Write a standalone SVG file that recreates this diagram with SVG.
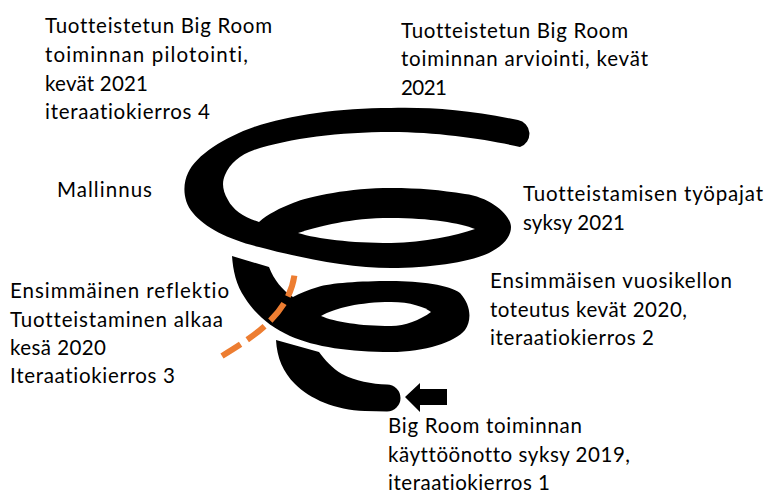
<svg xmlns="http://www.w3.org/2000/svg" width="766" height="493" viewBox="0 0 766 493">
  <style>
    .lbl { font-family: Lato, "Open Sans", "Liberation Sans", sans-serif; font-size: 20.5px; fill: #000;
           font-variant-ligatures: none; font-feature-settings: "liga" 0, "clig" 0; }
    .coil { fill: #000; stroke: none; }
    .hole { fill: #fff; stroke: none; }
    .cut { fill: none; stroke: #ED7D31; stroke-width: 6; stroke-dasharray: 22 8; }
  </style>
  <rect width="766" height="493" fill="#fff"/>

  <!-- spiral coil, drawn as three filled pieces from top to bottom -->
  <g id="spiral">
    <g id="coil-top">
      <path class="coil" d="M 518,120 C 470,110 430,107 391,108 C 340,108 290,115 254,127 C 225,137 196,155 188,173 C 183,183 182,200 193,213 C 205,228 230,240 259,247 C 300,258 350,268 391,268 C 430,268 470,262 489,253 C 503,246 511,237 511,227 C 511,215 490,197 465,194 C 440,190 420,188 391,188 C 350,188 310,196 293,203 C 280,208 268,214 259,222 C 245,218 233,210 228,200 C 222,190 222,182 225,175 C 230,163 240,155 254,150 C 290,138 340,132 391,132 C 440,132 490,140 520,147 A 14 14 0 0 0 518,120 Z"/>
      <path class="hole" d="M 298,233 C 320,226 350,218 391,218 C 430,218 460,223 475,229 C 455,236 425,242 391,243 C 350,243 318,239 298,233 Z"/>
    </g>
    <g id="coil-middle">
      <path class="coil" d="M 232,256 C 233,270 236,285 245,298 C 255,314 270,327 290,336 C 315,347 350,352 391,352 C 425,352 455,342 465,330 C 472,320 471,305 460,293 C 450,285 420,281 391,281 C 360,281 330,283 318,287 C 308,290 300,293 293,297 C 282,290 274,280 269,267 Z"/>
      <path class="hole" d="M 321,316 C 335,308 360,302 391,302 C 410,302 425,307 431,312 C 420,320 405,326 391,326 C 360,326 335,322 321,316 Z"/>
    </g>
    <g id="coil-bottom">
      <path class="coil" d="M 276,340 C 277,358 283,372 295,384 C 310,399 335,410 365,411 L 387,411.5 A 13.5 13.5 0 0 0 387,384.5 C 372,384 355,381 342,374 C 332,368 325,360 319,352 Z"/>
    </g>
  </g>

  <!-- dashed reflection line across the coil -->
  <g id="reflection-line">
    <path class="cut" d="M 222,356 C 255,336 292,312 295,270"/>
  </g>

  <!-- start arrow -->
  <g id="start-arrow">
    <path fill="#000" d="M 405,397 L 420,383 L 420,389 L 447,389 L 447,405 L 420,405 L 420,412 Z"/>
  </g>

  <g id="label-pilot">
    <text class="lbl" x="45" y="33" textLength="227">Tuotteistetun Big Room</text>
    <text class="lbl" x="45" y="62" textLength="203">toiminnan pilotointi,</text>
    <text class="lbl" x="45" y="91" textLength="103">kevät 2021</text>
    <text class="lbl" x="45" y="119" textLength="165">iteraatiokierros 4</text>
  </g>
  <g id="label-evaluation">
    <text class="lbl" x="401" y="38" textLength="227">Tuotteistetun Big Room</text>
    <text class="lbl" x="401" y="66" textLength="247">toiminnan arviointi, kevät</text>
    <text class="lbl" x="401" y="95" textLength="46">2021</text>
  </g>
  <g id="label-modelling">
    <text class="lbl" x="57" y="197" textLength="95">Mallinnus</text>
  </g>
  <g id="label-workshops">
    <text class="lbl" x="523" y="201" textLength="240">Tuotteistamisen työpajat</text>
    <text class="lbl" x="523" y="230" textLength="102">syksy 2021</text>
  </g>
  <g id="label-reflection">
    <text class="lbl" x="10" y="298" textLength="219">Ensimmäinen reflektio</text>
    <text class="lbl" x="10" y="327" textLength="213">Tuotteistaminen alkaa</text>
    <text class="lbl" x="10" y="355" textLength="96">kesä 2020</text>
    <text class="lbl" x="10" y="383" textLength="165">Iteraatiokierros 3</text>
  </g>
  <g id="label-annual-clock">
    <text class="lbl" x="490" y="288" textLength="242">Ensimmäisen vuosikellon</text>
    <text class="lbl" x="490" y="317" textLength="197">toteutus kevät 2020,</text>
    <text class="lbl" x="490" y="345" textLength="164">iteraatiokierros 2</text>
  </g>
  <g id="label-start">
    <text class="lbl" x="388" y="433" textLength="194">Big Room toiminnan</text>
    <text class="lbl" x="388" y="462" textLength="242">käyttöönotto syksy 2019,</text>
    <text class="lbl" x="388" y="490" textLength="162">iteraatiokierros 1</text>
  </g>
</svg>
